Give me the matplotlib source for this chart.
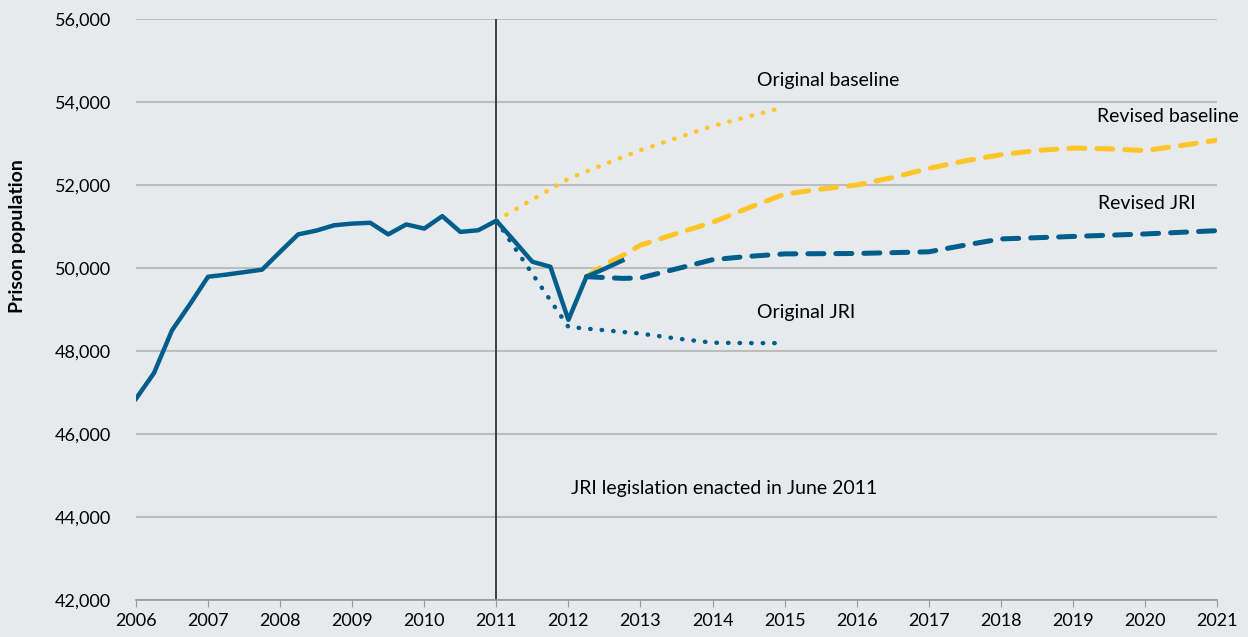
import matplotlib.pyplot as plt
from matplotlib.ticker import FuncFormatter

# actual prison population (quarterly)
actual_x = [2006.0, 2006.25, 2006.5, 2006.75, 2007.0, 2007.25, 2007.5, 2007.75,
            2008.0, 2008.25, 2008.5, 2008.75, 2009.0, 2009.25, 2009.5, 2009.75,
            2010.0, 2010.25, 2010.5, 2010.75, 2011.0, 2011.25, 2011.5, 2011.75,
            2012.0, 2012.25, 2012.5, 2012.75]
actual_y = [46850, 47470, 48500, 49130, 49790, 49840, 49900, 49960,
            50390, 50810, 50900, 51030, 51070, 51090, 50810, 51050,
            50950, 51250, 50870, 50910, 51140, 50650, 50150, 50030,
            48750, 49790, 49980, 50180]

orig_base_x = [2011.0, 2011.5, 2012.0, 2012.5, 2013.0, 2013.5, 2014.0, 2014.5, 2015.0]
orig_base_y = [51140, 51650, 52150, 52500, 52840, 53130, 53420, 53650, 53880]

orig_jri_x = [2011.0, 2012.0, 2012.5, 2013.0, 2013.5, 2014.0, 2014.5, 2015.0]
orig_jri_y = [51140, 48580, 48500, 48420, 48300, 48200, 48190, 48190]

rev_base_x = [2012.25, 2012.5, 2012.75, 2013.0, 2013.5, 2014.0, 2014.5, 2015.0,
              2015.5, 2016.0, 2016.5, 2017.0, 2017.5, 2018.0, 2018.5, 2019.0,
              2019.5, 2020.0, 2020.5, 2021.0]
rev_base_y = [49790, 50080, 50300, 50550, 50830, 51100, 51450, 51780,
              51900, 52000, 52180, 52400, 52580, 52730, 52830, 52890,
              52870, 52830, 52950, 53080]

rev_jri_x = [2012.25, 2012.5, 2012.75, 2013.0, 2013.5, 2014.0, 2014.5, 2015.0,
             2016.0, 2017.0, 2017.5, 2018.0, 2019.0, 2020.0, 2021.0]
rev_jri_y = [49790, 49770, 49750, 49760, 49980, 50200, 50280, 50340,
             50350, 50390, 50550, 50700, 50760, 50820, 50900]

years = list(range(2006, 2022))
yticks = list(range(42000, 56001, 2000))

blue = "#005e8c"
yellow = "#ffc527"
bg = "#e7eaed"

plt.rcParams['font.family'] = ['Lato', 'DejaVu Sans']

fig = plt.figure(figsize=(12.48, 6.37), dpi=100, facecolor=bg)
ax = fig.add_axes([136/1248, 1-600/637, (1217-136)/1248, (600-19)/637])
ax.set_facecolor(bg)

ax.plot(orig_base_x, orig_base_y, color=yellow, lw=3.2, ls=(0, (0.1, 2.5)),
        dash_capstyle="round", zorder=3)
ax.plot(orig_jri_x, orig_jri_y, color=blue, lw=3.2, ls=(0, (0.1, 2.5)),
        dash_capstyle="round", zorder=3)
ax.plot(rev_base_x, rev_base_y, color=yellow, lw=3.6, ls=(0, (3.2, 2.4)),
        dash_capstyle="round", zorder=3)
ax.plot(rev_jri_x, rev_jri_y, color=blue, lw=3.6, ls=(0, (3.2, 2.4)),
        dash_capstyle="round", zorder=3)
ax.plot(actual_x, actual_y, color=blue, lw=3.2, zorder=4)

ax.axvline(2011, color="#333333", lw=1.3, zorder=2)

ax.set_xlim(2006, 2021)
ax.set_ylim(42000, 56000)
ax.set_xticks(years)
ax.set_yticks(yticks)
ax.yaxis.set_major_formatter(FuncFormatter(lambda v, p: f"{int(v):,}"))
ax.grid(axis="y", color="#bdbdbd", lw=1.5)
ax.set_axisbelow(True)
for s in ["top", "right", "left"]:
    ax.spines[s].set_visible(False)
ax.spines["bottom"].set_color("#999999")
ax.spines["bottom"].set_linewidth(1.2)
ax.tick_params(axis="x", length=5, color="#999999", labelsize=13, pad=4)
ax.tick_params(axis="y", length=0, labelsize=13, pad=18)
fig.text(18/1248, 1-236/637, "Prison population", rotation=90, fontsize=14,
         fontweight="bold", ha="center", va="center")

ax.text(2014.62, 54530, "Original baseline", fontsize=14, va="center")
ax.text(2019.33, 53650, "Revised baseline", fontsize=14, va="center")
ax.text(2019.35, 51560, "Revised JRI", fontsize=14, va="center")
ax.text(2014.62, 48920, "Original JRI", fontsize=14, va="center")
ax.text(2014.16, 44680, "JRI legislation enacted in June 2011", fontsize=14,
        ha="center", va="center")

fig.savefig("out.png", dpi=100, facecolor=bg)
